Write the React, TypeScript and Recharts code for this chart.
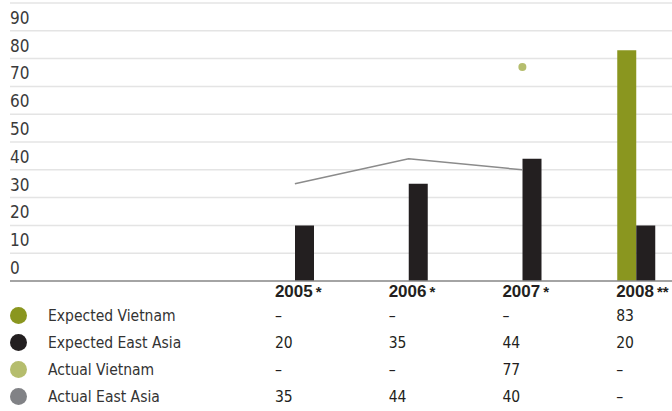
import React from 'react';
import {
  ComposedChart,
  Bar,
  Line,
  XAxis,
  YAxis,
  CartesianGrid,
} from 'recharts';

// Years on the x axis and their footnote marks
const years = ['2005', '2006', '2007', '2008'];
const yearMarks = ['*', '*', '*', '**'];

// FDI commitments, per series
const expectedVietnam = [null, null, null, 83];
const expectedEastAsia = [20, 35, 44, 20];
const actualVietnam = [null, null, 77, null];
const actualEastAsia = [35, 44, 40, null];

const yTicks = [0, 10, 20, 30, 40, 50, 60, 70, 80, 90, 100];

const series = [
  { key: 'expectedVietnam', name: 'Expected Vietnam', color: '#8a961f', values: expectedVietnam },
  { key: 'expectedEastAsia', name: 'Expected East Asia', color: '#231f20', values: expectedEastAsia },
  { key: 'actualVietnam', name: 'Actual Vietnam', color: '#b5bd6d', values: actualVietnam },
  { key: 'actualEastAsia', name: 'Actual East Asia', color: '#818286', values: actualEastAsia },
];

const data = years.map((year, i) => ({
  year,
  expectedVietnam: expectedVietnam[i],
  expectedEastAsia: expectedEastAsia[i],
  actualVietnam: actualVietnam[i],
  actualEastAsia: actualEastAsia[i],
}));

const FONT = "'Liberation Sans Narrow', 'DejaVu Sans Condensed', sans-serif";
const TEXT = '#231f20';

const renderYTick = (props: any) => {
  const { y, payload } = props;
  if (payload.value === 100) return <g />;
  return (
    <text x={10} y={y - 7} fill="#3a3a3a" fontSize={17} fontFamily={FONT}>
      {payload.value}
    </text>
  );
};

// Each year tick carries its column of the table underneath
const renderYearTick = (props: any) => {
  const { x, y, payload, index } = props;
  const left = x - 20;
  return (
    <g>
      <text x={left} y={y + 16} fill={TEXT} fontSize={17} fontWeight="bold" fontFamily="'Liberation Sans', Arial, sans-serif">
        {payload.value}
        <tspan fontSize={15} dx={3}>{yearMarks[index]}</tspan>
      </text>
      {series.map((s, r) => {
        const v = s.values[index];
        return (
          <text key={s.key} x={left} y={y + 40 + r * 27} fill={TEXT} fontSize={15.5} fontFamily={FONT}>
            {v == null ? '–' : v}
          </text>
        );
      })}
    </g>
  );
};

const App: React.FC = () => {
  return (
    <div style={{ position: 'fixed', left: 0, top: 0, width: 672, height: 411, overflow: 'hidden', background: '#fff' }}>
      <ComposedChart
        width={700}
        height={411}
        data={data}
        margin={{ top: 3, right: 0, bottom: 0, left: 0 }}
        barGap={0}
        barSize={19}
      >
        <CartesianGrid vertical={false} stroke="#e4e4e4" strokeWidth={1.5} />
        <YAxis
          domain={[0, 100]}
          ticks={yTicks}
          width={10}
          axisLine={false}
          tickLine={false}
          tick={renderYTick}
          interval={0}
        />
        <XAxis
          dataKey="year"
          height={130}
          padding={{ left: 228, right: 7 }}
          axisLine={{ stroke: '#8c8c8c', strokeWidth: 1.5 }}
          tickLine={false}
          tickSize={0}
          tickMargin={0}
          interval={0}
          tick={renderYearTick}
        />
        <Bar dataKey="expectedVietnam" fill="#8a961f" isAnimationActive={false} />
        <Bar dataKey="expectedEastAsia" fill="#231f20" isAnimationActive={false} />
        <Line
          dataKey="actualEastAsia"
          stroke="#8b8b8b"
          strokeWidth={1.5}
          dot={false}
          isAnimationActive={false}
        />
        <Line
          dataKey="actualVietnam"
          stroke="none"
          dot={{ r: 4, fill: '#b5bd6d', stroke: 'none' }}
          activeDot={false}
          isAnimationActive={false}
        />
      </ComposedChart>
      <div style={{ position: 'absolute', left: 0, top: 302, fontFamily: FONT, fontSize: 15.5, color: '#333' }}>
        {series.map((s) => (
          <div key={s.key} style={{ height: 27, display: 'flex', alignItems: 'center' }}>
            <span
              style={{
                display: 'inline-block',
                width: 17,
                height: 17,
                borderRadius: '50%',
                background: s.color,
                marginLeft: 10,
                marginRight: 21,
              }}
            />
            <span>{s.name}</span>
          </div>
        ))}
      </div>
    </div>
  );
};

export default App;
